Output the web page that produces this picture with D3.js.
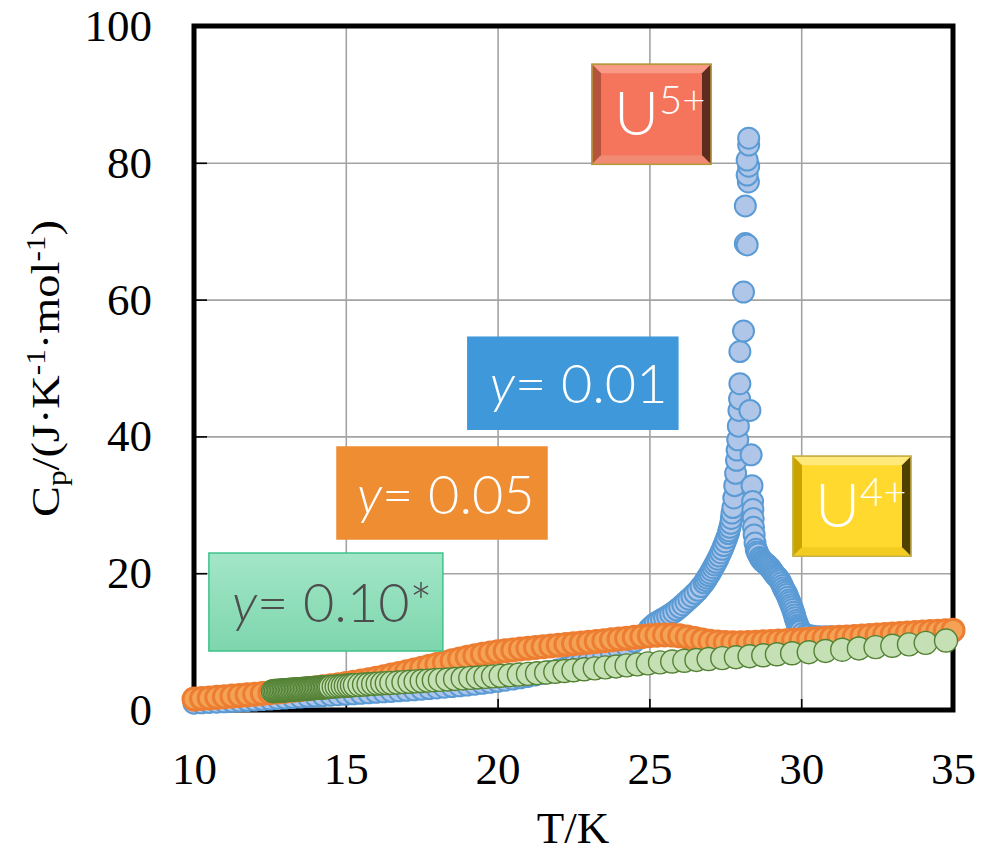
<!DOCTYPE html>
<html>
<head>
<meta charset="utf-8">
<script src="https://cdn.jsdelivr.net/npm/d3@7"></script>
<style>
  body { margin: 0; background: #fff; }
  svg { display: block; }
</style>
</head>
<body>
<div id="chart"></div>
<script>
// tick values
let xTicks = [10, 15, 20, 25, 30, 35];
let yTicks = [0, 20, 40, 60, 80, 100];

// y = 0.01  [T (K), Cp]
let seriesY001 = [
  [10.00,1.00],[10.25,1.05],[10.50,1.10],[10.75,1.15],[11.00,1.20],[11.25,1.26],[11.50,1.32],[11.75,1.38],
  [12.00,1.45],[12.25,1.52],[12.50,1.60],[12.75,1.67],[13.00,1.75],[13.25,1.82],[13.50,1.89],[13.75,1.96],
  [14.00,2.03],[14.25,2.10],[14.50,2.17],[14.75,2.24],[15.00,2.30],[15.25,2.37],[15.50,2.44],[15.75,2.51],
  [16.00,2.58],[16.25,2.65],[16.50,2.72],[16.75,2.80],[17.00,2.88],[17.25,2.96],[17.50,3.05],[17.75,3.14],
  [18.00,3.23],[18.25,3.33],[18.50,3.43],[18.75,3.54],[19.00,3.65],[19.25,3.77],[19.50,3.90],[19.75,4.04],
  [20.00,4.20],[20.25,4.36],[20.50,4.53],[20.75,4.71],[21.00,4.90],[21.25,5.13],[21.50,5.37],[21.75,5.63],
  [22.00,5.90],[22.25,6.19],[22.50,6.50],[22.75,6.83],[23.00,7.18],[23.25,7.55],[23.50,7.95],[23.75,8.38],
  [24.00,8.85],[24.25,9.35],[24.50,10.00],[24.75,10.90],[25.00,11.90],[25.10,12.30],[25.20,12.70],[25.30,12.95],
  [25.40,13.20],[25.50,13.45],[25.60,13.70],[25.70,14.00],[25.80,14.30],[25.90,14.65],[26.00,15.00],[26.10,15.40],
  [26.20,15.80],[26.30,16.20],[26.40,16.60],[26.50,17.05],[26.60,17.50],[26.70,18.05],[26.80,18.60],[26.85,18.95],
  [26.90,19.30],[26.95,19.65],[27.00,20.00],[27.05,20.40],[27.10,20.80],[27.15,21.20],[27.20,21.60],[27.25,22.05],
  [27.30,22.50],[27.35,23.00],[27.40,23.50],[27.45,24.05],[27.50,24.60],[27.55,25.20],[27.60,25.80],[27.62,26.20],
  [27.65,26.70],[27.68,27.30],[27.70,28.00],[27.72,28.80],[27.75,29.60],[27.78,31.00],[27.81,32.80],[27.84,34.60],
  [27.87,36.50],[27.89,38.00],[27.91,39.50],[27.93,41.50],[27.95,43.80],[27.97,45.50],[27.98,47.70],[27.98,52.40],
  [28.10,55.40],[28.10,61.10],[28.16,68.20],[28.22,68.00],[28.16,73.70],[28.26,77.20],[28.22,78.20],[28.27,79.50],
  [28.22,80.40],[28.27,82.60],[28.27,83.60],
  [28.31,43.80],[28.35,37.30],[28.38,32.80],[28.40,30.50],[28.41,29.30],[28.42,28.00],[28.43,26.70],[28.45,25.60],
  [28.48,24.40],[28.52,23.50],[28.55,23.10],[28.58,22.80],[28.64,22.30],[28.68,22.05],[28.72,21.80],[28.76,21.65],
  [28.80,21.50],[28.84,21.35],[28.88,21.20],[28.92,21.00],[28.97,20.80],[29.01,20.55],[29.05,20.30],[29.09,20.05],
  [29.13,19.80],[29.17,19.60],[29.22,19.40],[29.26,19.15],[29.30,18.90],[29.34,18.55],[29.38,18.20],[29.41,17.85],
  [29.45,17.50],[29.49,17.20],[29.53,16.90],[29.56,16.50],[29.60,16.10],[29.63,15.75],[29.66,15.40],[29.69,15.05],
  [29.72,14.70],[29.75,14.30],[29.78,13.90],[29.80,13.50],[29.83,13.10],[29.86,12.75],[29.88,12.40],[29.91,12.15],
  [29.93,11.90],[29.96,11.70],[29.98,11.50],[30.05,11.20],[30.15,11.00],[30.25,10.90],[30.40,10.80],[30.60,10.70],
  [30.80,10.70],[31.00,10.70],[31.25,10.70],[31.50,10.75],[31.75,10.80],[32.00,10.85],[32.50,10.95],[33.00,11.05],
  [33.50,11.15],[34.00,11.25],[34.50,11.35],[35.00,11.45]
];

// y = 0.05
let seriesY005 = [
  [10.00,1.60],[10.25,1.68],[10.50,1.76],[10.75,1.85],[11.00,1.94],[11.25,2.03],[11.50,2.12],[11.75,2.22],
  [12.00,2.32],[12.25,2.42],[12.50,2.53],[12.75,2.64],[13.00,2.75],[13.25,2.87],[13.50,2.99],[13.75,3.12],
  [14.00,3.25],[14.25,3.39],[14.50,3.54],[14.75,3.70],[15.00,3.87],[15.25,4.05],[15.50,4.24],[15.75,4.44],
  [16.00,4.65],[16.25,4.87],[16.50,5.10],[16.75,5.34],[17.00,5.59],[17.25,5.85],[17.50,6.11],[17.75,6.38],
  [18.00,6.65],[18.25,6.92],[18.50,7.19],[18.75,7.45],[19.00,7.70],[19.25,7.93],[19.50,8.14],[19.75,8.33],
  [20.00,8.50],[20.25,8.65],[20.50,8.79],[20.75,8.92],[21.00,9.04],[21.25,9.15],[21.50,9.26],[21.75,9.37],
  [22.00,9.48],[22.25,9.59],[22.50,9.70],[22.75,9.81],[23.00,9.92],[23.25,10.03],[23.50,10.14],[23.75,10.26],
  [24.00,10.38],[24.25,10.50],[24.50,10.62],[24.75,10.74],[25.00,10.85],[25.25,10.94],[25.50,10.98],[25.75,10.95],
  [26.00,10.84],[26.25,10.66],[26.50,10.45],[26.75,10.24],[27.00,10.06],[27.25,9.93],[27.50,9.86],[27.75,9.84],
  [28.00,9.85],[28.25,9.88],[28.50,9.92],[28.75,9.97],[29.00,10.02],[29.25,10.08],[29.50,10.14],[29.75,10.20],
  [30.00,10.27],[30.25,10.34],[30.50,10.41],[30.75,10.48],[31.00,10.55],[31.25,10.62],[31.50,10.69],[31.75,10.76],
  [32.00,10.83],[32.25,10.90],[32.50,10.97],[32.75,11.04],[33.00,11.11],[33.25,11.18],[33.50,11.25],[33.75,11.32],
  [34.00,11.39],[34.25,11.46],[34.50,11.53],[34.75,11.60],[35.00,11.67]
];

// y = 0.10*
let seriesY010 = [
  [12.60,2.75],[12.65,2.77],[12.70,2.78],[12.75,2.80],[12.80,2.82],[12.85,2.83],[12.90,2.85],[12.95,2.87],
  [13.00,2.88],[13.05,2.90],[13.10,2.92],[13.15,2.93],[13.20,2.95],[13.25,2.97],[13.30,2.98],[13.35,3.00],
  [13.40,3.02],[13.45,3.03],[13.50,3.05],[13.55,3.07],[13.60,3.08],[13.65,3.10],[13.70,3.12],[13.75,3.13],
  [13.80,3.15],[13.85,3.17],[13.90,3.18],[13.95,3.20],[14.00,3.22],[14.05,3.23],[14.10,3.25],[14.15,3.27],
  [14.20,3.28],[14.25,3.30],[14.30,3.32],[14.35,3.33],[14.40,3.35],[14.45,3.37],[14.50,3.38],[14.60,3.42],
  [14.70,3.45],[14.80,3.48],[14.90,3.52],[15.00,3.55],[15.10,3.58],[15.20,3.61],[15.30,3.64],[15.45,3.68],
  [15.60,3.72],[15.75,3.77],[15.90,3.81],[16.05,3.85],[16.20,3.89],[16.35,3.93],[16.50,3.97],[16.70,4.02],
  [16.90,4.07],[17.10,4.13],[17.30,4.18],[17.50,4.24],[17.70,4.29],[17.90,4.35],[18.10,4.40],[18.35,4.47],
  [18.60,4.54],[18.85,4.61],[19.10,4.69],[19.35,4.76],[19.60,4.84],[19.85,4.92],[20.10,5.00],[20.40,5.09],
  [20.70,5.18],[21.00,5.28],[21.30,5.38],[21.60,5.48],[21.90,5.59],[22.20,5.70],[22.50,5.81],[22.85,5.95],
  [23.20,6.09],[23.55,6.23],[23.90,6.37],[24.25,6.52],[24.60,6.67],[24.95,6.82],[25.35,6.96],[25.75,7.08],
  [26.15,7.20],[26.55,7.32],[26.95,7.45],[27.40,7.58],[27.85,7.72],[28.30,7.86],[28.75,8.00],[29.20,8.14],
  [29.70,8.29],[30.25,8.45],[30.80,8.63],[31.35,8.81],[31.90,9.00],[32.45,9.19],[33.00,9.39],[33.55,9.60],
  [34.10,9.82],[34.77,10.15]
];

let width = 988, height = 853;

let svg = d3.select("#chart").append("svg")
  .attr("width", width)
  .attr("height", height);

let x = d3.scaleLinear().domain([10, 35]).range([194, 953]);
let y = d3.scaleLinear().domain([0, 100]).range([710, 26]);

let serif = "'Liberation Serif', 'Times New Roman', serif";
let sans = "Lato, 'Open Sans', 'Noto Sans', sans-serif";

// grid
svg.append("g")
  .attr("transform", "translate(0,710)")
  .call(d3.axisBottom(x).tickValues([15, 20, 25, 30]).tickSize(-684).tickFormat(""))
  .call(g => g.select(".domain").remove())
  .selectAll("line").attr("stroke", "#a3a3a3").attr("stroke-width", 1.6);

svg.append("g")
  .attr("transform", "translate(194,0)")
  .call(d3.axisLeft(y).tickValues([20, 40, 60, 80]).tickSize(-759).tickFormat(""))
  .call(g => g.select(".domain").remove())
  .selectAll("line").attr("stroke", "#a3a3a3").attr("stroke-width", 1.6);

// inner tick marks
svg.append("g")
  .attr("transform", "translate(0,710)")
  .call(d3.axisBottom(x).tickValues([15, 20, 25, 30]).tickSize(-11).tickFormat(""))
  .call(g => g.select(".domain").remove())
  .selectAll("line").attr("stroke", "#000").attr("stroke-width", 1.6);

svg.append("g")
  .attr("transform", "translate(194,0)")
  .call(d3.axisLeft(y).tickValues([20, 40, 60, 80]).tickSize(-13).tickFormat(""))
  .call(g => g.select(".domain").remove())
  .selectAll("line").attr("stroke", "#000").attr("stroke-width", 1.6);

// frame
svg.append("rect")
  .attr("x", x(10)).attr("y", y(100))
  .attr("width", x(35) - x(10)).attr("height", y(0) - y(100))
  .attr("fill", "none").attr("stroke", "#000").attr("stroke-width", 5);

// tick labels
let xAxis = svg.append("g")
  .attr("transform", "translate(0,710)")
  .call(d3.axisBottom(x).tickValues(xTicks).tickSize(0).tickPadding(42).tickFormat(d3.format("d")));
xAxis.select(".domain").remove();
xAxis.selectAll("text").attr("font-family", serif).attr("font-size", 45).attr("fill", "#000");

let yAxis = svg.append("g")
  .attr("transform", "translate(194,0)")
  .call(d3.axisLeft(y).tickValues(yTicks).tickSize(0).tickPadding(42).tickFormat(d3.format("d")));
yAxis.select(".domain").remove();
yAxis.selectAll("text").attr("font-family", serif).attr("font-size", 45).attr("fill", "#000");

// axis titles
svg.append("text")
  .attr("x", 573).attr("y", 843)
  .attr("text-anchor", "middle")
  .attr("font-family", serif).attr("font-size", 45)
  .text("T/K");

let yTitle = svg.append("text")
  .attr("font-family", serif).attr("font-size", 40);
yTitle.append("tspan").text("C");
yTitle.append("tspan").attr("font-size", 27).attr("dy", 7).text("p");
yTitle.append("tspan").attr("dy", -7).text("/(J·K");
yTitle.append("tspan").attr("font-size", 27).attr("dy", -14).text("-1");
yTitle.append("tspan").attr("dy", 14).text("·mol");
yTitle.append("tspan").attr("font-size", 27).attr("dy", -14).text("-1");
yTitle.append("tspan").attr("dy", 14).text(")");
// stretch along its length to span the same height as in the original
let titleLen = yTitle.node().getComputedTextLength();
let sx = 297 / titleLen;
yTitle.attr("transform", "translate(59,517) rotate(-90) scale(" + sx + ",1)");

// markers
function drawSeries(data, r, fill, stroke, sw) {
  svg.append("g")
    .selectAll("circle")
    .data(data)
    .enter().append("circle")
    .attr("cx", d => x(d[0]))
    .attr("cy", d => y(d[1]))
    .attr("r", r)
    .attr("fill", fill)
    .attr("stroke", stroke)
    .attr("stroke-width", sw);
}

drawSeries(seriesY001, 10.5, "#b0c6e8", "#5b9bd5", 2);
drawSeries(seriesY005, 11, "#f4a256", "#ed7d31", 3);
drawSeries(seriesY010, 11.5, "#c5e0b4", "#548235", 1.4);

// labels for compositions
function labelBox(t, cp, w, h, fill, stroke, color, value, tx, base) {
  let bx = x(t), by = y(cp);
  svg.append("rect")
    .attr("x", bx).attr("y", by).attr("width", w).attr("height", h)
    .attr("fill", fill).attr("stroke", stroke).attr("stroke-width", 1.5);
  let txt = svg.append("text")
    .attr("x", bx + tx).attr("y", by + base)
    .attr("font-family", sans).attr("font-size", 54).attr("font-weight", 300)
    .attr("fill", color);
  txt.append("tspan").attr("font-style", "italic").text("y");
  txt.append("tspan").text("= " + value);
}

let defs = svg.append("defs");
let grad = defs.append("linearGradient").attr("id", "greenGrad")
  .attr("x1", 0).attr("y1", 0).attr("x2", 0).attr("y2", 1);
grad.append("stop").attr("offset", "0%").attr("stop-color", "#a3e6c8");
grad.append("stop").attr("offset", "100%").attr("stop-color", "#7dd6ad");

labelBox(19.02, 54.5, 210, 92, "#3f98d9", "#3f98d9", "#fff", "0.01", 22, 66);
labelBox(14.71, 38.45, 210, 92, "#ee8d32", "#ee8d32", "#fff", "0.05", 20, 67);
labelBox(10.49, 22.95, 234, 98, "url(#greenGrad)", "#3fc389", "#4d4d4d", "0.10*", 23, 69);

// ion badges with bevel
function ionBadge(t, cp, w, h, c, ion, charge) {
  let bx = x(t), by = y(cp), b = 9;
  let g = svg.append("g");
  g.append("rect").attr("x", bx).attr("y", by).attr("width", w).attr("height", h)
    .attr("fill", c.base).attr("stroke", c.border).attr("stroke-width", 1.5);
  let p = (pts, col) => g.append("polygon").attr("points", pts.map(q => q.join(",")).join(" ")).attr("fill", col);
  p([[bx, by], [bx + w, by], [bx + w - b, by + b], [bx + b, by + b]], c.top);
  p([[bx, by], [bx + b, by + b], [bx + b, by + h - b], [bx, by + h]], c.left);
  p([[bx + w, by], [bx + w, by + h], [bx + w - b, by + h - b], [bx + w - b, by + b]], c.right);
  p([[bx, by + h], [bx + b, by + h - b], [bx + w - b, by + h - b], [bx + w, by + h]], c.bottom);
  g.append("rect").attr("x", bx).attr("y", by).attr("width", w).attr("height", h)
    .attr("fill", "none").attr("stroke", c.border).attr("stroke-width", 1.5);
  let txt = g.append("text")
    .attr("x", bx + 22).attr("y", by + 71)
    .attr("font-family", sans).attr("font-size", 62).attr("font-weight", 300)
    .attr("fill", "#fff");
  txt.append("tspan").text(ion);
  txt.append("tspan").attr("font-size", 40).attr("dy", -21).text(charge);
}

ionBadge(23.11, 94.4, 119, 100,
  {base: "#f4755b", border: "#b59a3c", top: "#f99a86", left: "#b4543f", right: "#5e2b1f", bottom: "#f08a72"},
  "U", "5+");
ionBadge(29.73, 37.1, 118, 100,
  {base: "#ffd92e", border: "#c9b24a", top: "#ffe97a", left: "#c9a300", right: "#4f4000", bottom: "#f2cc20"},
  "U", "4+");
</script>
</body>
</html>
